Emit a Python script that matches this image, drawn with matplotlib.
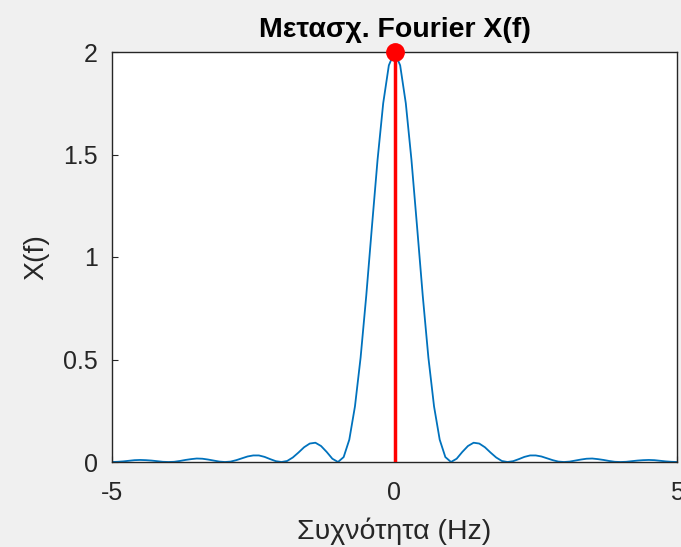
import matplotlib
matplotlib.use("Agg")
import matplotlib.pyplot as plt

# spectrum magnitude, f = 0 .. 5 Hz in 0.1 steps (curve is symmetric)
f_pos = [i / 10 for i in range(51)]
x_pos = [2.000, 1.935, 1.750, 1.474, 1.146, 0.811, 0.509, 0.271, 0.109, 0.024,
         0.000, 0.016, 0.049, 0.078, 0.094, 0.090, 0.072, 0.046, 0.022, 0.005,
         0.000, 0.004, 0.014, 0.025, 0.032, 0.032, 0.027, 0.018, 0.009, 0.002,
         0.000, 0.002, 0.007, 0.012, 0.016, 0.017, 0.014, 0.010, 0.005, 0.001,
         0.000, 0.001, 0.004, 0.007, 0.009, 0.010, 0.009, 0.006, 0.003, 0.001,
         0.000]

freq = [-v for v in f_pos[:0:-1]] + f_pos
mag = x_pos[:0:-1] + x_pos

stem_f = [0]
stem_val = [2]

xticks = [-5, 0, 5]
yticks = [0, 0.5, 1, 1.5, 2]

plt.rcParams['font.family'] = ['Liberation Sans', 'DejaVu Sans']

fig = plt.figure(figsize=(6.81, 5.47), dpi=100, facecolor='#f0f0f0')
ax = fig.add_axes([112 / 681, 1 - 462 / 547, 565 / 681, 410 / 547])

ax.plot(freq, mag, color='#0072BD', lw=1.3)
ax.vlines(stem_f, 0, stem_val, color='#ff0000', lw=2.5, zorder=3)
ax.plot(stem_f, stem_val, 'o', color='#ff0000', ms=12.5, zorder=4, clip_on=False)

ax.set_xlim(-5, 5)
ax.set_ylim(0, 2)
ax.set_xticks(xticks)
ax.set_xticklabels(['-5', '0', '5'])
ax.set_yticks(yticks)
ax.set_yticklabels(['0', '0.5', '1', '1.5', '2'])
ax.tick_params(direction='in', length=4, width=0.8, colors='#262626', labelsize=18)
ax.tick_params(axis='x', pad=14)
ax.tick_params(axis='y', pad=10)
for s in ax.spines.values():
    s.set_color('#262626')
    s.set_linewidth(1.0)

ax.set_title('Μετασχ. Fourier X(f)', fontsize=20.5, fontweight='bold', pad=11)
ax.set_xlabel('Συχνότητα (Hz)', fontsize=20.5, color='#262626', labelpad=9)
ax.set_ylabel('X(f)', fontsize=20.5, color='#262626', labelpad=10)

fig.savefig('out.png', dpi=100, facecolor=fig.get_facecolor())
